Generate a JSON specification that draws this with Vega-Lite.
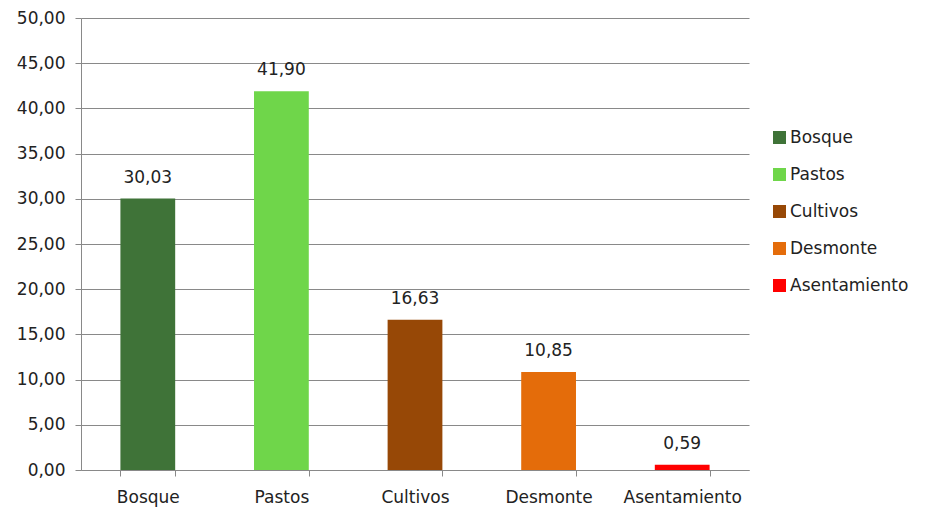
{
  "$schema": "https://vega.github.io/schema/vega-lite/v6.json",
  "autosize": "none",
  "width": 668,
  "height": 452,
  "padding": {"left": 81, "top": 18, "right": 196, "bottom": 54},
  "background": "white",
  "config": {
    "font": "DejaVu Sans",
    "view": {"stroke": null},
    "axis": {"labelFont": "DejaVu Sans", "labelColor": "#222222", "labelFontSize": 17}
  },
  "data": {
    "values": [
      {"uso": "Bosque", "valor": 30.03},
      {"uso": "Pastos", "valor": 41.90},
      {"uso": "Cultivos", "valor": 16.63},
      {"uso": "Desmonte", "valor": 10.85},
      {"uso": "Asentamiento", "valor": 0.59}
    ]
  },
  "encoding": {
    "x": {
      "field": "uso", "type": "nominal", "sort": null,
      "scale": {"paddingInner": 0.59, "paddingOuter": 0.295},
      "axis": {"title": null, "labelAngle": 0, "domainColor": "#898989", "tickColor": "#898989", "tickSize": 6, "tickBand": "extent", "labelPadding": 13, "grid": false}
    },
    "y": {
      "field": "valor", "type": "quantitative",
      "scale": {"domain": [0, 50]},
      "axis": {"title": null, "values": [0,5,10,15,20,25,30,35,40,45,50], "labelExpr": "replace(format(datum.value, '.2f'), '.', ',')", "gridColor": "#898989", "domainColor": "#898989", "tickColor": "#898989", "tickSize": 6, "labelPadding": 10}
    }
  },
  "layer": [
    {
      "mark": {"type": "bar"},
      "encoding": {
        "color": {
          "field": "uso", "type": "nominal", "sort": null,
          "scale": {"domain": ["Bosque", "Pastos", "Cultivos", "Desmonte", "Asentamiento"], "range": ["#3F7338", "#6FD64A", "#974806", "#E46C0A", "#FF0000"]},
          "legend": {"title": null, "orient": "none", "legendX": 690, "legendY": 111, "symbolType": "square", "symbolSize": 169, "symbolStrokeWidth": 0, "labelFontSize": 17, "labelFont": "DejaVu Sans", "labelColor": "#222222", "rowPadding": 19, "labelOffset": 2}
        }
      }
    },
    {
      "transform": [{"calculate": "replace(format(datum.valor, '.2f'), '.', ',')", "as": "etiqueta"}],
      "mark": {"type": "text", "baseline": "bottom", "dy": -12, "fontSize": 17, "color": "#222222"},
      "encoding": {
        "text": {"field": "etiqueta", "type": "nominal"}
      }
    }
  ]
}
